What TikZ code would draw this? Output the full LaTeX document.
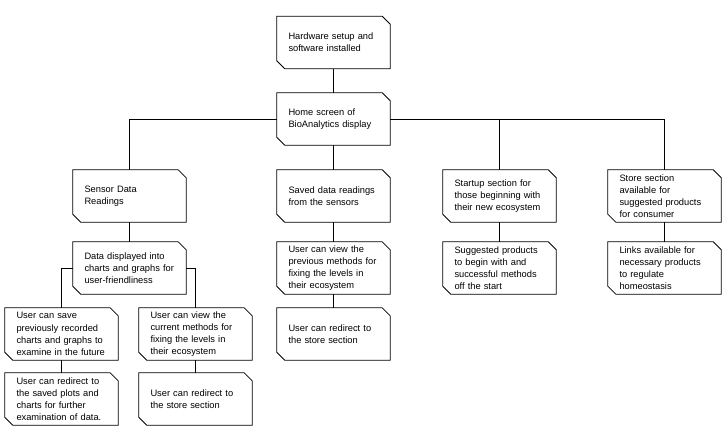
\documentclass[tikz,border=0pt]{standalone}
\usepackage{fontspec}
\setmainfont{Liberation Sans}
\begin{document}
\begin{tikzpicture}[x=1pt,y=-1pt,
  box/.style={rectangle, draw=none, minimum width=113pt, minimum height=52pt,
    text width=90pt, inner xsep=11.5pt, inner ysep=0pt, align=left,
    font=\fontsize{9.3}{12.2}\selectfont},
  link/.style={draw=black, line width=0.85pt},
  outline/.style={draw=black, line width=0.85pt, line join=miter}]
\useasboundingbox (0,0) rectangle (722,440);
\node[box] (hw) at (333.5,42.5) {Hardware setup and\\software installed};
\node[box] (home) at (333.5,119) {Home screen of\\BioAnalytics display};
\node[box] (sensor) at (129.5,196) {Sensor Data\\Readings};
\node[box] (saved) at (333.5,196) {Saved data readings\\from the sensors};
\node[box] (startup) at (499.5,196) {Startup section for\\those beginning with\\their new ecosystem};
\node[box] (store) at (664.5,196) {Store section\\available for\\suggested products\\for consumer};
\node[box] (data) at (129.5,268) {Data displayed into\\charts and graphs for\\user-friendliness};
\node[box] (viewprev) at (333.5,268) {User can view the\\previous methods for\\fixing the levels in\\their ecosystem};
\node[box] (suggest) at (499.5,268) {Suggested products\\to begin with and\\successful methods\\off the start};
\node[box] (links) at (664.5,268) {Links available for\\necessary products\\to regulate\\homeostasis};
\node[box] (savecharts) at (61.5,334) {User can save\\previously recorded\\charts and graphs to\\examine in the future};
\node[box] (viewcur) at (195.5,334) {User can view the\\current methods for\\fixing the levels in\\their ecosystem};
\node[box] (redirmid) at (333.5,334) {User can redirect to\\the store section};
\node[box] (redirplots) at (61.5,399) {User can redirect to\\the saved plots and\\charts for further\\examination of data.};
\node[box] (redirstore) at (195.5,399) {User can redirect to\\the store section};
% connectors
\draw[link] (hw.south) -- (home.north);
\draw[link] (home.west) -| (sensor.north);
\draw[link] (home.east) -| (store.north);
\draw[link] (startup.north) -- (startup.north |- home.east);
\draw[link] (home.south) -- (saved.north);
\draw[link] (sensor.south) -- (data.north);
\draw[link] (saved.south) -- (viewprev.north);
\draw[link] (viewprev.south) -- (redirmid.north);
\draw[link] (startup.south) -- (suggest.north);
\draw[link] (store.south) -- (links.north);
\draw[link] (data.west) -| (savecharts.north);
\draw[link] (data.east) -| (viewcur.north);
\draw[link] (savecharts.south) -- (redirplots.north);
\draw[link] (viewcur.south) -- (redirstore.north);
% snipped outlines
\foreach \n in {hw,home,sensor,saved,startup,store,data,viewprev,suggest,links,savecharts,viewcur,redirmid,redirplots,redirstore}
  \draw[outline] (\n.north west) -- ([xshift=-8pt]\n.north east) -- ([yshift=-8pt]\n.north east)
    -- (\n.south east) -- ([xshift=8pt]\n.south west) -- ([yshift=8pt]\n.south west) -- cycle;
\end{tikzpicture}
\end{document}
